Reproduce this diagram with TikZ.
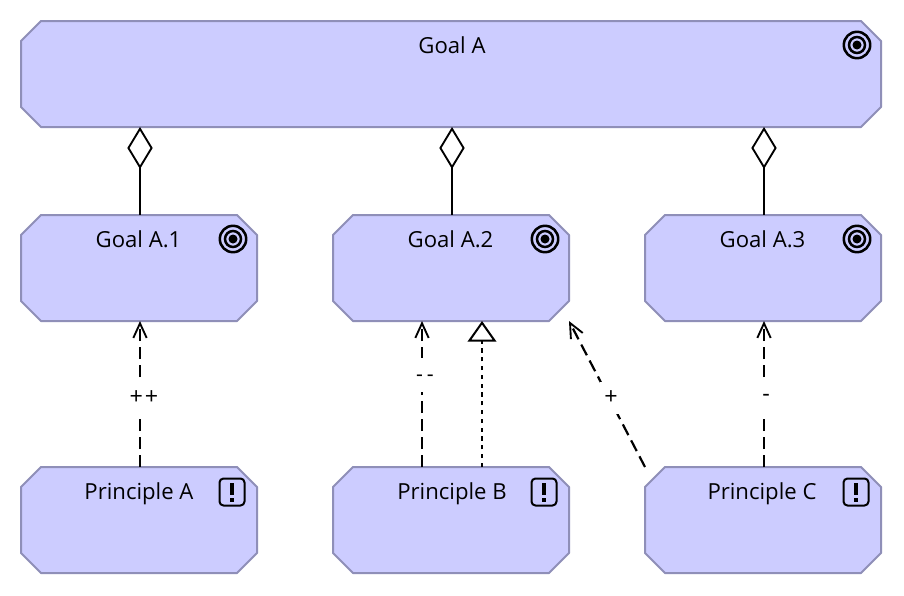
\documentclass[tikz,border=0pt]{standalone}
\usepackage{fontspec}
\setmainfont{Open Sans}
\usetikzlibrary{calc,arrows.meta}
\definecolor{boxfill}{HTML}{CCCCFF}
\definecolor{boxline}{HTML}{8F8FB8}
\newcommand{\octagon}[1]{%
  \filldraw[octaline]
    ($(#1.north west)+(20,0)$) -- ($(#1.north east)+(-20,0)$) -- ($(#1.north east)+(0,20)$) --
    ($(#1.south east)+(0,-20)$) -- ($(#1.south east)+(-20,0)$) -- ($(#1.south west)+(20,0)$) --
    ($(#1.south west)+(0,-20)$) -- ($(#1.north west)+(0,20)$) -- cycle;}
\tikzset{
  x=0.75pt,y=-0.75pt,
  octaline/.style={draw=boxline,fill=boxfill,line width=1.5pt,line join=round},
  element/.style={rectangle,draw=none,inner sep=0pt,outer sep=0pt},
  smallbox/.style={element,minimum width=177pt,minimum height=79.5pt},
  title/.style={font=\fontsize{16.6pt}{20pt}\selectfont,inner sep=0pt,text=black},
  conn/.style={line width=1.65pt,black},
  aggregation/.style={conn,{Diamond[fill=white,length=31.5pt,width=19pt,line width=1.4pt]}-},
  influence/.style={conn,dash pattern=on 9pt off 4.5pt,-{Straight Barb[length=11pt,width=10pt,line width=1.4pt]}},
  realization/.style={conn,dash pattern=on 3.2pt off 3.4pt,-{Triangle[length=15.5pt,width=21.5pt,fill=white,line width=1.5pt]}},
  inflabel/.style={font=\fontsize{17.5pt}{20pt}\selectfont,fill=white,inner sep=0pt,text=black},
  targeticon/.pic={
    \draw[black,line width=1.9pt] (0,0) circle (13.2);
    \draw[black,line width=1.9pt] (0,0) circle (8);
    \fill[black] (0,0) circle (4.5);
  },
  principleicon/.pic={
    \draw[black,line width=1.5pt,fill=boxfill,rounded corners=3pt] (-12.5,-13.5) rectangle (12.5,13.5);
    \fill[black] (-2,-9) rectangle (2,3);
    \fill[black] (-2,6) rectangle (2,10);
  },
}
\begin{document}
\begin{tikzpicture}
\useasboundingbox (0,0) rectangle (904,596);
\fill[white] (0,0) rectangle (904,596);
% elements
\node[element,minimum width=645pt,minimum height=79.5pt] (ga) at (451,74) {};
\node[smallbox] (g1) at (139,268) {};
\node[smallbox] (g2) at (451,268) {};
\node[smallbox] (g3) at (763,268) {};
\node[smallbox] (p1) at (139,520) {};
\node[smallbox] (p2) at (451,520) {};
\node[smallbox] (p3) at (763,520) {};
\octagon{ga}\octagon{g1}\octagon{g2}\octagon{g3}\octagon{p1}\octagon{p2}\octagon{p3}
% titles
\node[title] (tga) at (452,45.2) {Goal A};
\node[title] (tg1) at (138.5,239.2) {Goal A.1};
\node[title] (tg2) at (450.5,239.2) {Goal A.2};
\node[title] (tg3) at (762.5,239.2) {Goal A.3};
\node[title] (tp1) at (139,493.5) {Principle A};
\node[title] (tp2) at (452,493.5) {Principle B};
\node[title] (tp3) at (762,493.5) {Principle C};
% icons
\pic at (857,45) {targeticon};
\pic at (233,239) {targeticon};
\pic at (545,239) {targeticon};
\pic at (857,239) {targeticon};
\pic at (232,492) {principleicon};
\pic at (544,492) {principleicon};
\pic at (856,492) {principleicon};
% connector guides
\coordinate (xa1) at (140,0);
\coordinate (xa2) at (452,0);
\coordinate (xa3) at (764,0);
\coordinate (xb1) at (422,0);
\coordinate (xb2) at (482,0);
% aggregation
\draw[aggregation] (ga.south -| xa1) -- (g1.north -| xa1);
\draw[aggregation] (ga.south -| xa2) -- (g2.north -| xa2);
\draw[aggregation] (ga.south -| xa3) -- (g3.north -| xa3);
% influence
\draw[influence] (p1.north -| xa1) -- (g1.south -| xa1);
\node[inflabel,minimum width=30pt,minimum height=30pt] (l1) at (144,398) {+\hspace{1.5pt}+};
\draw[influence] (p2.north -| xb1) -- (g2.south -| xb1);
\node[fill=white,minimum width=18pt,minimum height=26pt,inner sep=0pt] (m2) at (425,375) {};
\node[font=\fontsize{16pt}{18pt}\selectfont,inner sep=0pt] (l2) at (425,378) {-\hspace{3pt}-};
\draw[realization] (p2.north -| xb2) -- (g2.south -| xb2);
\draw[influence] (p3.west |- p3.north) -- (g2.east |- g2.south);
\node[inflabel,minimum width=16pt,minimum height=24pt] (l3) at (611,398) {+};
\draw[influence] (p3.north -| xa3) -- (g3.south -| xa3);
\node[inflabel,minimum width=14pt,minimum height=30pt] (l4) at (766,398) {-};
\end{tikzpicture}
\end{document}
